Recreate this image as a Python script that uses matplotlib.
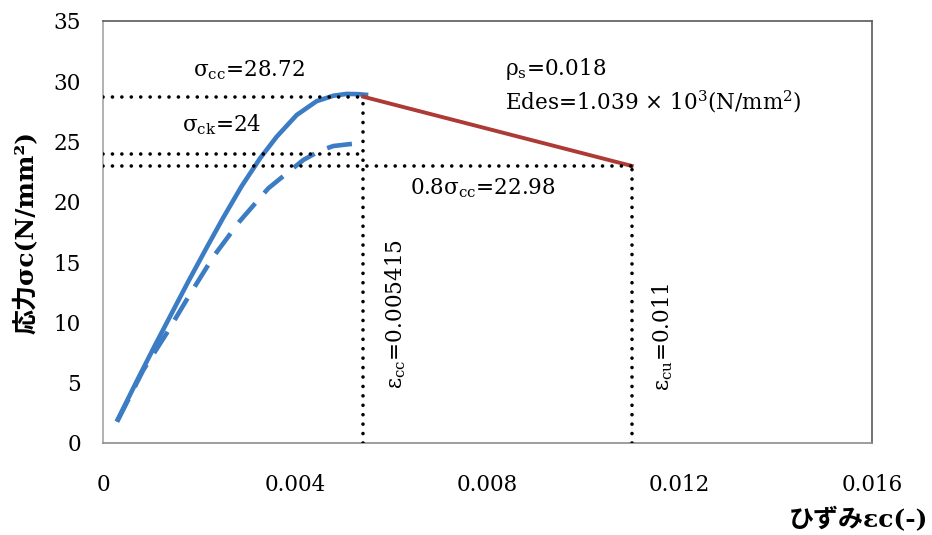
import numpy as np
import matplotlib.pyplot as plt

plt.rcParams['font.family'] = ['DejaVu Serif', 'Noto Sans CJK JP']
plt.rcParams['mathtext.fontset'] = 'dejavuserif'

# confined concrete (solid)
eps_conf = [0.000285, 0.000714, 0.001068, 0.001429, 0.001776, 0.002143, 0.002504,
            0.002885, 0.003267, 0.003614, 0.00403, 0.004446, 0.004793,
            0.00507, 0.005313, 0.00552]
sig_conf = [1.77, 5.22, 7.99, 10.75, 13.4, 16.1, 18.7,
            21.3, 23.6, 25.4, 27.2, 28.35, 28.8,
            28.95, 28.93, 28.86]

# unconfined concrete (dashed)
eps_unc = [0.000295, 0.000839, 0.001325, 0.0018, 0.002296, 0.002836, 0.00344,
           0.003822, 0.004168, 0.004515, 0.004793, 0.005278]
sig_unc = [1.77, 6.05, 9.1, 12.27, 15.45, 18.35, 21.12,
           22.36, 23.47, 24.24, 24.63, 24.85]

# descending branch
eps_des = [0.005415, 0.011]
sig_des = [28.72, 22.98]

eps_cc = 0.005415
eps_cu = 0.011
sig_cc = 28.72
sig_ck = 24
sig_08 = 22.98

xticks = [0, 0.004, 0.008, 0.012, 0.016]
xlabels = ['0', '0.004', '0.008', '0.012', '0.016']
yticks = [0, 5, 10, 15, 20, 25, 30, 35]

fig = plt.figure(figsize=(9.32, 5.35), dpi=100)
ax = fig.add_axes([0.1105, 0.172, 0.8251, 0.7888])

blue = '#3B7CC4'
red = '#AE3A35'

ax.plot(eps_conf, sig_conf, color=blue, lw=3.3, solid_capstyle='butt',
        solid_joinstyle='round', zorder=2)
ax.plot(eps_unc, sig_unc, color=blue, lw=3.3, dashes=(5.5, 3), dash_capstyle='butt',
        dash_joinstyle='round', zorder=2)
ax.plot(eps_des, sig_des, color=red, lw=2.8, zorder=2)

dot = dict(color='black', lw=2.6, dashes=(0.01, 2.6), dash_capstyle='round', zorder=3)
ax.plot([0, eps_cc], [sig_cc, sig_cc], **dot)
ax.plot([0, eps_cc], [sig_ck, sig_ck], **dot)
ax.plot([0, eps_cu], [sig_08, sig_08], **dot)
ax.plot([eps_cc, eps_cc], [0, sig_cc], **dot)
ax.plot([eps_cu, eps_cu], [0, sig_08], **dot)

fs = 15.5
ax.text(0.00187, 30.9, 'σ$_{\\rm cc}$=28.72', fontsize=fs, va='center')
ax.text(0.00165, 26.4, 'σ$_{\\rm ck}$=24', fontsize=fs, va='center')
ax.text(0.00836, 31.0, 'ρ$_{\\rm s}$=0.018', fontsize=fs, va='center')
ax.text(0.00836, 28.3, 'Edes=1.039 × 10$^{3}$(N/mm$^{2}$)', fontsize=fs, va='center')
ax.text(0.00639, 21.1, '0.8σ$_{\\rm cc}$=22.98', fontsize=fs, va='center')
ax.text(0.00608, 10.7, 'ε$_{\\rm cc}$=0.005415', fontsize=fs, va='center', ha='center', rotation=90)
ax.text(0.01165, 8.8, 'ε$_{\\rm cu}$=0.011', fontsize=fs, va='center', ha='center', rotation=90)

ax.set_xlim(0, 0.016)
ax.set_ylim(0, 35)
ax.set_xticks(xticks)
ax.set_xticklabels(xlabels)
ax.set_yticks(yticks)
ax.tick_params(axis='x', length=0, pad=22, labelsize=15.5)
ax.tick_params(axis='y', length=0, pad=16, labelsize=15.5)
ax.spines['left'].set_color('#A6A6A6')
ax.spines['bottom'].set_color('#8C8C8C')
ax.spines['top'].set_color('#595959')
ax.spines['right'].set_color('#595959')
for s in ax.spines.values():
    s.set_linewidth(1.2)

fig.text(26 / 932, 1 - 232 / 535, '応力σc(N/mm²)', rotation=90, fontsize=18,
         fontweight='bold', ha='center', va='center')
fig.text(928 / 932, 1 - 520 / 535, 'ひずみεc(-)', fontsize=18,
         fontweight='bold', ha='right', va='center')

fig.savefig('out.png', dpi=100)
